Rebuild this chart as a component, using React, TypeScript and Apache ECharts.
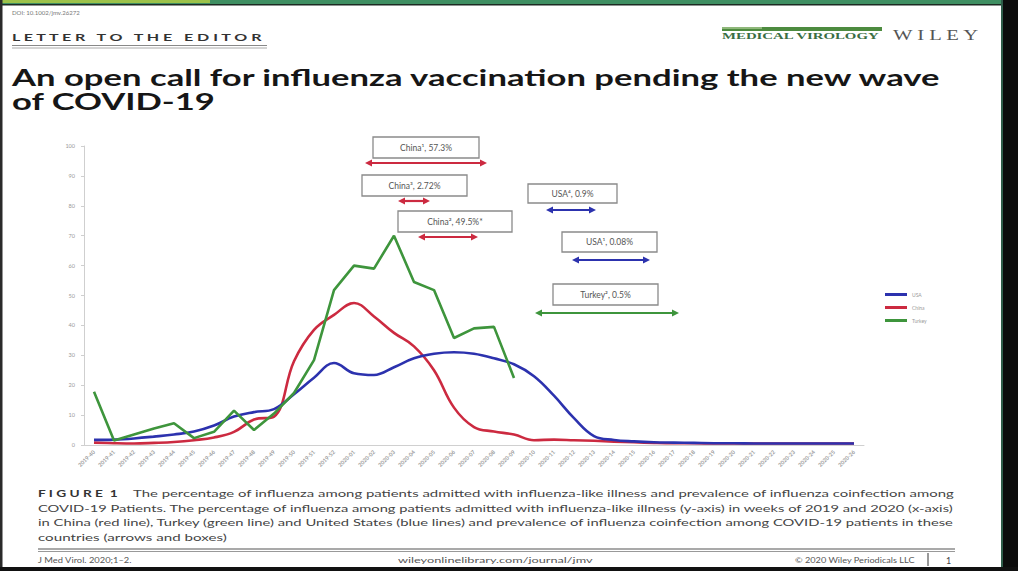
import React, { useEffect, useRef } from "react";
import * as echarts from "echarts";

const weekLabels = [
  "2019-40", "2019-41", "2019-42", "2019-43", "2019-44", "2019-45", "2019-46", "2019-47",
  "2019-48", "2019-49", "2019-50", "2019-51", "2019-52", "2020-01", "2020-02", "2020-03",
  "2020-04", "2020-05", "2020-06", "2020-07", "2020-08", "2020-09", "2020-10", "2020-11",
  "2020-12", "2020-13", "2020-14", "2020-15", "2020-16", "2020-17", "2020-18", "2020-19",
  "2020-20", "2020-21", "2020-22", "2020-23", "2020-24", "2020-25", "2020-26",
];

const usaValues = [
  1.7, 1.8, 2.2, 2.8, 3.5, 4.5, 6.5, 9.5, 11, 12, 17, 22.5, 27.4, 24, 23.4, 26, 29, 30.5,
  31, 30.5, 29, 27, 23, 16.5, 9, 3, 1.7, 1.2, 0.9, 0.8, 0.7, 0.6, 0.6, 0.5, 0.5, 0.5, 0.5,
  0.5, 0.5,
];

const chinaValues = [
  0.8, 0.6, 0.5, 0.7, 1, 1.6, 2.5, 4.4, 8.5, 9.5, 28, 38.5, 43.5, 47.5, 43, 37.5, 33, 25,
  12.5, 6, 4.5, 3.5, 1.6, 1.8, 1.6, 1.4, 1.1, 0.9, 0.7, 0.6, 0.6, 0.5, 0.5, 0.5, 0.5, 0.5,
  0.5, 0.5, 0.5,
];

const turkeyValues = [
  17.8, 1.5, 3.5, 5.5, 7.3, 2.3, 4.4, 11.5, 5, 10.5, 17.4, 28.4, 51.8, 60, 59, 70, 54.5,
  51.8, 35.8, 39, 39.5, 22.4,
];

const seriesNames = ["USA", "China", "Turkey"];

const annotationTexts = [
  "China¹, 57.3%",
  "China³, 2.72%",
  "China², 49.5%*",
  "USA⁴, 0.9%",
  "USA¹, 0.08%",
  "Turkey², 0.5%",
];

const captionLines = [
  "The percentage of influenza among patients admitted with influenza-like illness and prevalence of influenza coinfection among",
  "COVID-19 Patients. The percentage of influenza among patients admitted with influenza-like illness (y-axis) in weeks of 2019 and 2020 (x-axis)",
  "in China (red line), Turkey (green line) and United States (blue lines) and prevalence of influenza coinfection among COVID-19 patients in these",
  "countries (arrows and boxes)",
];

const BLUE = "#2c32ae";
const RED = "#cc2a40";
const GREEN = "#3e953c";

let measureCtx: CanvasRenderingContext2D | null = null;
function measure(text: string, size: number, weight: string, family: string) {
  if (!measureCtx) measureCtx = document.createElement("canvas").getContext("2d");
  if (!measureCtx) return text.length * size * 0.5;
  measureCtx.font = `${weight} ${size}px ${family}`;
  return measureCtx.measureText(text).width;
}

function fitText(
  text: string,
  x: number,
  y: number,
  width: number,
  size: number,
  opts: { weight?: string; family?: string; color?: string; scale?: number } = {}
) {
  const weight = opts.weight || "normal";
  const family = opts.family || "Lato";
  const w = measure(text, size, weight, family);
  const sx = opts.scale != null ? opts.scale : width > 0 && w > 0 ? width / w : 1;
  return {
    type: "text",
    x,
    y,
    scaleX: sx,
    silent: true,
    style: {
      text,
      fontSize: size,
      fontWeight: weight,
      fontFamily: family,
      fill: opts.color || "#333",
      align: "left",
      verticalAlign: "middle",
    },
  };
}

function arrow(x1: number, x2: number, y: number, color: string) {
  const h = 7;
  const hw = 3.6;
  return [
    {
      type: "line",
      silent: true,
      shape: { x1: x1 + h - 1, y1: y, x2: x2 - h + 1, y2: y },
      style: { stroke: color, lineWidth: 2.2 },
    },
    {
      type: "polygon",
      silent: true,
      shape: { points: [[x1, y], [x1 + h, y - hw], [x1 + h, y + hw]] },
      style: { fill: color },
    },
    {
      type: "polygon",
      silent: true,
      shape: { points: [[x2, y], [x2 - h, y - hw], [x2 - h, y + hw]] },
      style: { fill: color },
    },
  ];
}

function box(text: string, x: number, y: number, w: number, h: number) {
  return [
    {
      type: "rect",
      silent: true,
      shape: { x, y, width: w, height: h },
      style: { fill: "#ffffff", stroke: "#8a8a8a", lineWidth: 1.3 },
    },
    {
      type: "text",
      silent: true,
      x: x + w / 2,
      y: y + h / 2,
      style: {
        text,
        fontSize: 8.5,
        fontFamily: "Lato",
        fill: "#555",
        align: "center",
        verticalAlign: "middle",
      },
    },
  ];
}

export default function App() {
  const ref = useRef<HTMLDivElement>(null);

  useEffect(() => {
    if (!ref.current) return;
    const chart = echarts.init(ref.current, undefined, { renderer: "svg" });

    const titleLine1 = "An open call for influenza vaccination pending the new wave";
    const titleW = measure(titleLine1, 23, "bold", "Lato");
    const titleScale = 931 / titleW;

    const annLayout = [
      { box: [373, 137, 106, 21], arrow: [365, 487, 163], color: RED },
      { box: [362, 175, 105, 21], arrow: [398, 430, 201], color: RED },
      { box: [398, 211, 114, 21], arrow: [418, 478, 237], color: RED },
      { box: [528, 184, 89, 19], arrow: [546, 596, 210], color: BLUE },
      { box: [562, 232, 95, 20], arrow: [572, 650, 260], color: BLUE },
      { box: [553, 284, 105, 21], arrow: [535, 679, 313], color: GREEN },
    ];

    const annElems: any[] = [];
    annLayout.forEach((a, i) => {
      annElems.push(...box(annotationTexts[i], a.box[0], a.box[1], a.box[2], a.box[3]));
      annElems.push(...arrow(a.arrow[0], a.arrow[1], a.arrow[2], a.color));
    });

    const graphic: any[] = [
      // frame
      { type: "rect", silent: true, shape: { x: 0, y: 0, width: 1018, height: 4 }, style: { fill: "#3f8f62" } },
      { type: "rect", silent: true, shape: { x: 0, y: 0, width: 210, height: 3 }, style: { fill: "#9cc24a" } },
      { type: "rect", silent: true, shape: { x: 0, y: 4, width: 1018, height: 1.5 }, style: { fill: "#1d2a22" } },
      { type: "rect", silent: true, shape: { x: 0, y: 0, width: 2.5, height: 571 }, style: { fill: "#2a2a2a" } },
      { type: "rect", silent: true, shape: { x: 1003, y: 0, width: 15, height: 571 }, style: { fill: "#0c0c0c" } },
      { type: "rect", silent: true, shape: { x: 1001, y: 0, width: 2, height: 571 }, style: { fill: "#2f5d4a" } },
      { type: "rect", silent: true, shape: { x: 0, y: 567, width: 1018, height: 4 }, style: { fill: "#111" } },
      // header
      fitText("DOI: 10.1002/jmv.26272", 12, 13, 68, 6, { color: "#777" }),
      fitText("L E T T E R   T O   T H E   E D I T O R", 12, 38, 255, 9, { weight: "bold", color: "#333" }),
      { type: "line", silent: true, shape: { x1: 12, y1: 45.5, x2: 267, y2: 45.5 }, style: { stroke: "#888", lineWidth: 1 } },
      { type: "line", silent: true, shape: { x1: 12, y1: 48, x2: 267, y2: 48 }, style: { stroke: "#aaa", lineWidth: 1 } },
      { type: "rect", silent: true, shape: { x: 722, y: 27, width: 160, height: 4 }, style: { fill: "#4d8b3f" } },
      { type: "rect", silent: true, shape: { x: 722, y: 27, width: 40, height: 2 }, style: { fill: "#8fb87a" } },
      fitText("MEDICAL VIROLOGY", 722, 36.5, 158, 8, { weight: "bold", family: "Liberation Serif", color: "#3a6e44" }),
      fitText("W I L E Y", 893, 35, 87, 14, { family: "Liberation Serif", color: "#555" }),
      // title
      fitText(titleLine1, 12, 77, 931, 23, { weight: "bold", color: "#161616", scale: titleScale }),
      fitText("of COVID-19", 12, 101, 0, 23, { weight: "bold", color: "#161616", scale: titleScale }),
      // caption
      fitText("F I G U R E  1", 38, 494, 80, 9, { weight: "bold", color: "#333" }),
      fitText(captionLines[0], 133, 494, 822, 9.5, { color: "#444" }),
      fitText(captionLines[1], 38, 508.5, 917, 9.5, { color: "#444" }),
      fitText(captionLines[2], 38, 523, 917, 9.5, { color: "#444" }),
      fitText(captionLines[3], 38, 537.5, 189, 9.5, { color: "#444" }),
      // footer
      { type: "line", silent: true, shape: { x1: 38, y1: 549, x2: 955, y2: 549 }, style: { stroke: "#555", lineWidth: 1.2 } },
      { type: "line", silent: true, shape: { x1: 38, y1: 551.5, x2: 955, y2: 551.5 }, style: { stroke: "#999", lineWidth: 1 } },
      { type: "line", silent: true, shape: { x1: 928, y1: 553, x2: 928, y2: 566 }, style: { stroke: "#555", lineWidth: 1.2 } },
      fitText("J Med Virol. 2020;1–2.", 38, 560, 94, 8, { color: "#555" }),
      fitText("wileyonlinelibrary.com/journal/jmv", 398, 560, 195, 8, { color: "#555" }),
      fitText("© 2020 Wiley Periodicals LLC", 795, 560, 120, 8, { color: "#555" }),
      fitText("1", 946, 560, 0, 9, { color: "#444", scale: 1 }),
      ...annElems,
    ];

    const lineSeries = (name: string, data: number[], color: string, smooth: boolean | number) => ({
      name,
      type: "line",
      data,
      smooth,
      showSymbol: false,
      symbol: "none",
      connectNulls: false,
      lineStyle: { color, width: 2.6 },
      itemStyle: { color },
    });

    chart.setOption({
      animation: false,
      backgroundColor: "#ffffff",
      grid: { left: 84, top: 146, width: 780, height: 299, containLabel: false },
      legend: {
        data: seriesNames,
        orient: "vertical",
        left: 880,
        top: 287,
        icon: "rect",
        itemWidth: 22,
        itemHeight: 3,
        itemGap: 8,
        textStyle: { fontSize: 5, color: "#999", fontFamily: "Lato" },
      },
      xAxis: {
        type: "category",
        data: weekLabels,
        boundaryGap: true,
        axisLine: { lineStyle: { color: "#d0d0d0", width: 1 } },
        axisTick: { show: false },
        axisLabel: { interval: 0, rotate: 45, fontSize: 5.5, color: "#9a9a9a", margin: 6, fontFamily: "Lato", fontWeight: "bold" },
      },
      yAxis: {
        type: "value",
        min: 0,
        max: 100,
        interval: 10,
        splitLine: { show: false },
        axisLine: { show: true, lineStyle: { color: "#cfcfcf", width: 1 } },
        axisTick: { show: true, length: 3, lineStyle: { color: "#cfcfcf" } },
        axisLabel: { fontSize: 5.5, color: "#999", margin: 9, fontFamily: "Lato" },
      },
      series: [
        lineSeries("China", chinaValues, RED, 0.4),
        lineSeries("USA", usaValues, BLUE, 0.4),
        lineSeries("Turkey", turkeyValues, GREEN, false),
      ],
      graphic,
    });

    return () => chart.dispose();
  }, []);

  return (
    <div
      ref={ref}
      style={{ position: "fixed", left: 0, top: 0, width: 1018, height: 571, background: "#fff" }}
    />
  );
}
